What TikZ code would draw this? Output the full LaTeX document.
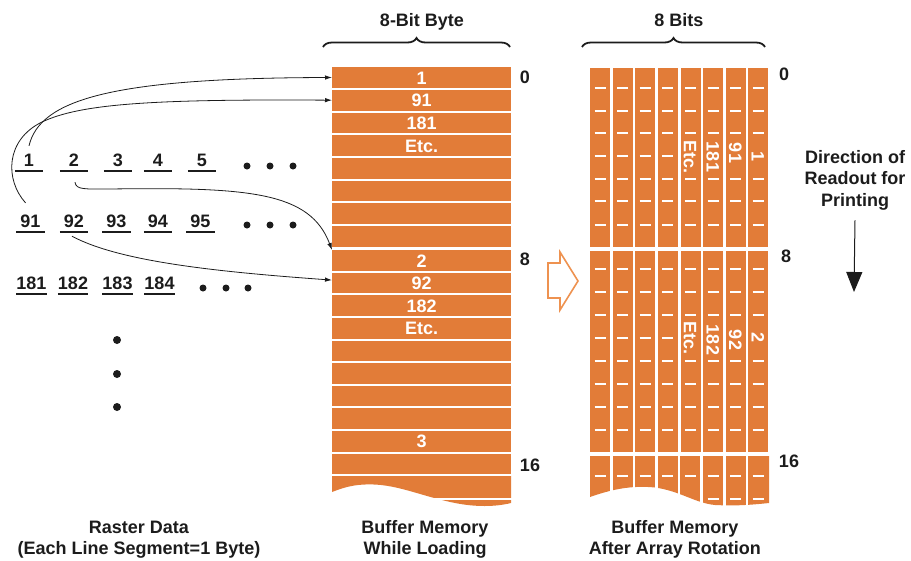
\documentclass[tikz,border=0pt]{standalone}
\usepackage{fontspec}
\setmainfont{Liberation Sans}
\usetikzlibrary{decorations.pathreplacing,arrows.meta,calc}
\definecolor{buf}{RGB}{226,124,56}
\definecolor{bufline}{RGB}{238,146,80}
\definecolor{ink}{RGB}{28,28,28}
\begin{document}
\begin{tikzpicture}[x=1pt,y=-1pt,
  txt/.style={font=\bfseries\fontsize{18}{21.5}\selectfont, text=ink, inner sep=0pt},
  num/.style={txt, text height=13pt, text depth=0pt},
  rnum/.style={num, minimum width=28pt},
  uline/.style={draw=ink, line width=1.6pt},
  lrow/.style={rectangle, fill=buf, inner sep=0pt, minimum width=179pt, minimum height=20.6pt,
    text=white, font=\bfseries\fontsize{18}{21.5}\selectfont, text height=13pt, text depth=0pt, anchor=north west},
  rcol/.style={rectangle, fill=buf, inner sep=0pt, minimum width=20pt, anchor=north west},
  rtext/.style={rotate=-90, fill=buf, inner sep=0.6pt, text=white,
    font=\bfseries\fontsize{18}{21.5}\selectfont, text height=13pt, text depth=0pt},
  dashw/.style={draw=white, line width=2pt},
  conn/.style={draw=ink, line width=0.8pt, -{Latex[length=7pt,width=4.5pt]}},
  dotf/.style={fill=ink},
  brc/.style={draw=ink, line width=1.8pt, decorate, decoration={brace, amplitude=9pt}}
]
\useasboundingbox (0,0) rectangle (911,560);

% ---------- titles and braces ----------
\node[txt, anchor=base] (tbyte) at (422,26) {8-Bit Byte};
\node[txt, anchor=base] (tbits) at (679,26) {8 Bits};
\draw[brc] (323,47) -- (510,47);
\draw[brc] (582,47) -- (765,47);

% ---------- left buffer (while loading) ----------
\foreach \k/\t in {0/1,1/91,2/181,3/Etc.,4/{},5/{},6/{},7/{},8/2,9/92,10/182,11/Etc.,12/{},13/{},14/{},15/{},16/3,17/{}}{
  \pgfmathsetmacro\tp{\k<8 ? 67+22.7*\k : 250+22.6*(\k-8)}
  \node[lrow] (L\k) at (332,\tp) {\t};
}
\fill[buf] (332,476) -- (511,476) -- (511,503) .. controls (495,507) and (475,507) .. (455,503)
  .. controls (420,496) and (395,483) .. (365,484.5) .. controls (350,485) and (340,489) .. (332,492) -- cycle;
\draw[white, line width=2.2pt] (330,499) -- (513,499);

\node[num] (l0) at (525,77) {0};
\node[num] (l8) at (525,258.5) {8};
\node[num] (l16) at (530,465) {16};

% ---------- hollow arrow ----------
\draw[bufline, line width=1.6pt, fill=white, line join=miter]
  (548,263) -- (560,263) -- (560,252) -- (578,281) -- (560,310) -- (560,298) -- (548,298) -- cycle;

% ---------- right buffer (after rotation) ----------
\foreach \c in {0,...,7}{
  \pgfmathsetmacro\xl{590+22.6*\c}
  \node[rcol, minimum height=179pt] (A\c) at (\xl,68) {};
  \node[rcol, minimum height=201pt] (B\c) at (\xl,251) {};
}
\fill[buf] (590,456) -- (769,456) -- (769,503) .. controls (750,505) and (735,506) .. (715,505)
  .. controls (695,503) and (680,491) .. (655,487.5) .. controls (630,485) and (610,490) .. (590,497) -- cycle;
\foreach \c in {1,...,7}{
  \pgfmathsetmacro\xg{590+22.6*\c-1.3}
  \draw[white, line width=2.6pt] (\xg,454) -- (\xg,510);
}
\foreach \c in {0,...,7}{
  \pgfmathsetmacro\xc{600+22.6*\c}
  \foreach \yy in {88,110.5,133,155.5,178.5,201,224.5,269,292,315,338,361,384,407,430,476}{
    \draw[dashw] (\xc-5.5,\yy) -- (\xc+5.5,\yy);
  }
}
\foreach \c in {5,6,7}{
  \pgfmathsetmacro\xc{600+22.6*\c}
  \draw[dashw] (\xc-5.5,499) -- (\xc+5.5,499);
}
\node[rtext] (ra1) at (758.2,157) {1};
\node[rtext] (ra2) at (735.6,153) {91};
\node[rtext] (ra3) at (713,157) {181};
\node[rtext] (ra4) at (690.4,157) {Etc.};
\node[rtext] (rb1) at (758.2,338) {2};
\node[rtext] (rb2) at (735.6,340) {92};
\node[rtext] (rb3) at (713,340) {182};
\node[rtext] (rb4) at (690.4,338) {Etc.};

\node[num] (q0) at (784,74) {0};
\node[num] (q8) at (786,255.5) {8};
\node[num] (q16) at (789,461) {16};

% ---------- direction of readout ----------
\node[txt, anchor=north, align=center] (dir) at (855,150) {Direction of\\Readout for\\Printing};
\coordinate (dirend) at (854,292);
\draw[draw=ink, line width=1pt, -{Triangle[length=20pt,width=16pt]}] ([yshift=-10pt]dir.south) -- (dirend);

% ---------- raster data ----------
\foreach \n/\x/\y in {1/29/159.5, 2/74/159.5, 3/118/159.5, 4/158/159.5, 5/202/159.5,
  91/30.5/220.5, 92/74/220.5, 93/116.5/220.5, 94/158/220.5, 95/200.5/220.5,
  181/31.5/282.5, 182/73/282.5, 183/117.5/282.5, 184/159.5/282.5}{
  \node[rnum] (r\n) at (\x,\y) {\n};
  \draw[uline] ([yshift=-5pt]r\n.south west) -- ([yshift=-5pt]r\n.south east);
}
\foreach \x in {247,270,293}{
  \fill[dotf] (\x,166) circle (3.5pt);
  \fill[dotf] (\x,225) circle (3.5pt);
}
\foreach \x in {203,226,248}{
  \fill[dotf] (\x,288) circle (3.5pt);
}
\foreach \y in {340,374,407}{
  \fill[dotf] (117,\y) circle (4pt);
}

% ---------- connectors ----------
\draw[conn] ([yshift=7pt]r1.north) .. controls (40,100) and (110,78) .. (L0.west);
\draw[conn] ([xshift=-5pt,yshift=11pt]r91.north) .. controls (5,180) and (5,140) .. (42,122)
  .. controls (80,104) and (150,99) .. (L1.west);
\draw[conn] ([xshift=1pt,yshift=-16pt]r2.south) .. controls (76,190) and (85,189) .. (110,189)
  .. controls (250,187) and (310,192) .. (L8.north west);
\draw[conn] ([xshift=-2pt,yshift=-9pt]r92.south) .. controls (120,262) and (220,272) .. ([yshift=3pt]L9.west);

% ---------- captions ----------
\node[txt, anchor=north, align=center, font=\bfseries\fontsize{18}{21}\selectfont] (capr) at (139,521) {Raster Data\\(Each Line Segment=1 Byte)};
\node[txt, anchor=north, align=center, font=\bfseries\fontsize{18}{21}\selectfont] (capl) at (425,520) {Buffer Memory\\While Loading};
\node[txt, anchor=north, align=center, font=\bfseries\fontsize{18}{21}\selectfont] (capa) at (675,520) {Buffer Memory\\After Array Rotation};
\end{tikzpicture}
\end{document}
